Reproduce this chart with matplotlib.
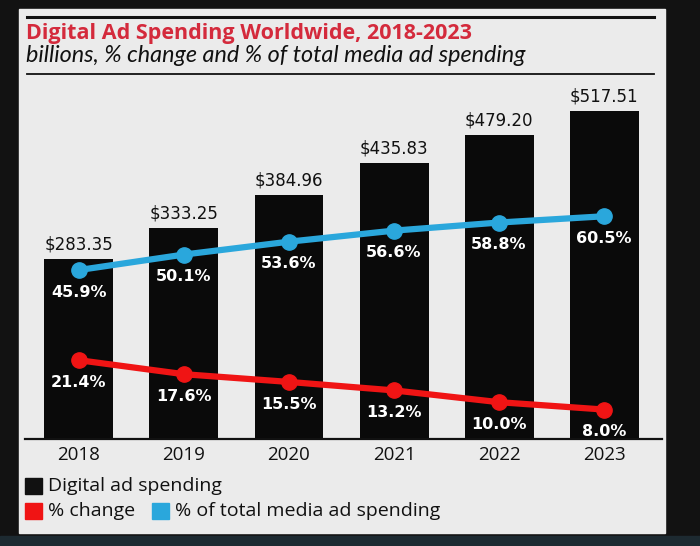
import matplotlib
matplotlib.use("Agg")
import matplotlib.pyplot as plt
from matplotlib.patches import Rectangle
from matplotlib.lines import Line2D

years = ["2018", "2019", "2020", "2021", "2022", "2023"]
spending = [283.35, 333.25, 384.96, 435.83, 479.20, 517.51]
pct_change = [21.4, 17.6, 15.5, 13.2, 10.0, 8.0]
pct_total = [45.9, 50.1, 53.6, 56.6, 58.8, 60.5]

RED = "#f01414"
BLUE = "#2aa7dc"
TITLE_RED = "#d42a3c"
PANEL = "#ebebeb"
W, H = 700, 546

fig = plt.figure(figsize=(7, 5.46), dpi=100, facecolor="#121212")

def fx(px):
    return px / W

def fy(py):
    return 1 - py / H

# screen panel and bezel (behind the axes)
fig.patches.append(Rectangle((fx(19), fy(533)), fx(665 - 19), (533 - 9) / H,
                             transform=fig.transFigure, color=PANEL, zorder=-2))
fig.patches.append(Rectangle((0, 0), 1, fy(536), transform=fig.transFigure,
                             color="#1d2a31", zorder=-2))

# rules
for y, lw in [(17, 2.2), (74, 1.3)]:
    fig.lines.append(Line2D([fx(27), fx(654)], [fy(y), fy(y)], transform=fig.transFigure,
                            color="#111111", lw=lw))

sans = ["Open Sans", "DejaVu Sans"]
fig.text(fx(26), fy(34), "Digital Ad Spending Worldwide, 2018-2023", color=TITLE_RED,
         fontsize=15.5, fontweight="bold", family=sans, va="center", ha="left")
fig.text(fx(26), fy(55), "billions, % change and % of total media ad spending", color="#111111",
         fontsize=16.8, fontstyle="italic", family=["Lato", "DejaVu Sans"], va="center", ha="left")

# main axes
ax = fig.add_axes([fx(25), fy(439), fx(662 - 25), (439 - 90) / H])
ax.set_facecolor("none")
x = list(range(len(years)))
ax.bar(x, spending, width=0.657, color="#0a0a0a", zorder=2)
ax.set_xlim(-0.514, 5.552)
ax.set_ylim(0, 550.5)
for xi, v in zip(x, spending):
    ax.annotate(f"${v:.2f}", (xi, v), xytext=(0, 4), textcoords="offset points",
                ha="center", va="bottom", fontsize=12, color="#111111", family="DejaVu Sans")
for s in ["top", "left", "right"]:
    ax.spines[s].set_visible(False)
ax.spines["bottom"].set_linewidth(1.6)
ax.spines["bottom"].set_color("#111111")
ax.set_yticks([])
ax.set_xticks(x)
ax.set_xticklabels(years, fontsize=13.5, family=sans, color="#111111")
ax.tick_params(axis="x", length=0, pad=5)

ax2 = ax.twinx()
ax2.set_ylim(0, 94.8)
ax2.set_yticks([])
for s in ax2.spines.values():
    s.set_visible(False)
for vals, col in [(pct_total, BLUE), (pct_change, RED)]:
    ax2.plot(x, vals, color=col, lw=4.5, marker="o", markersize=11, zorder=3)
    for xi, v in zip(x, vals):
        ax2.annotate(f"{v:.1f}%", (xi, v), xytext=(0, -16), textcoords="offset points",
                     ha="center", va="center", fontsize=11.5, fontweight="bold",
                     color="white", family="DejaVu Sans")

# legend
def leg_item(px, py, color, label):
    fig.patches.append(Rectangle((fx(px), fy(py + 8)), fx(17), 16 / H,
                                 transform=fig.transFigure, color=color))
    fig.text(fx(px + 23), fy(py), label, fontsize=14, family=sans, color="#111111",
             va="center", ha="left")

leg_item(25, 486, "#111111", "Digital ad spending")
leg_item(25, 511, RED, "% change")
leg_item(152, 511, BLUE, "% of total media ad spending")

fig.savefig("out.png", dpi=100, facecolor=fig.get_facecolor())
